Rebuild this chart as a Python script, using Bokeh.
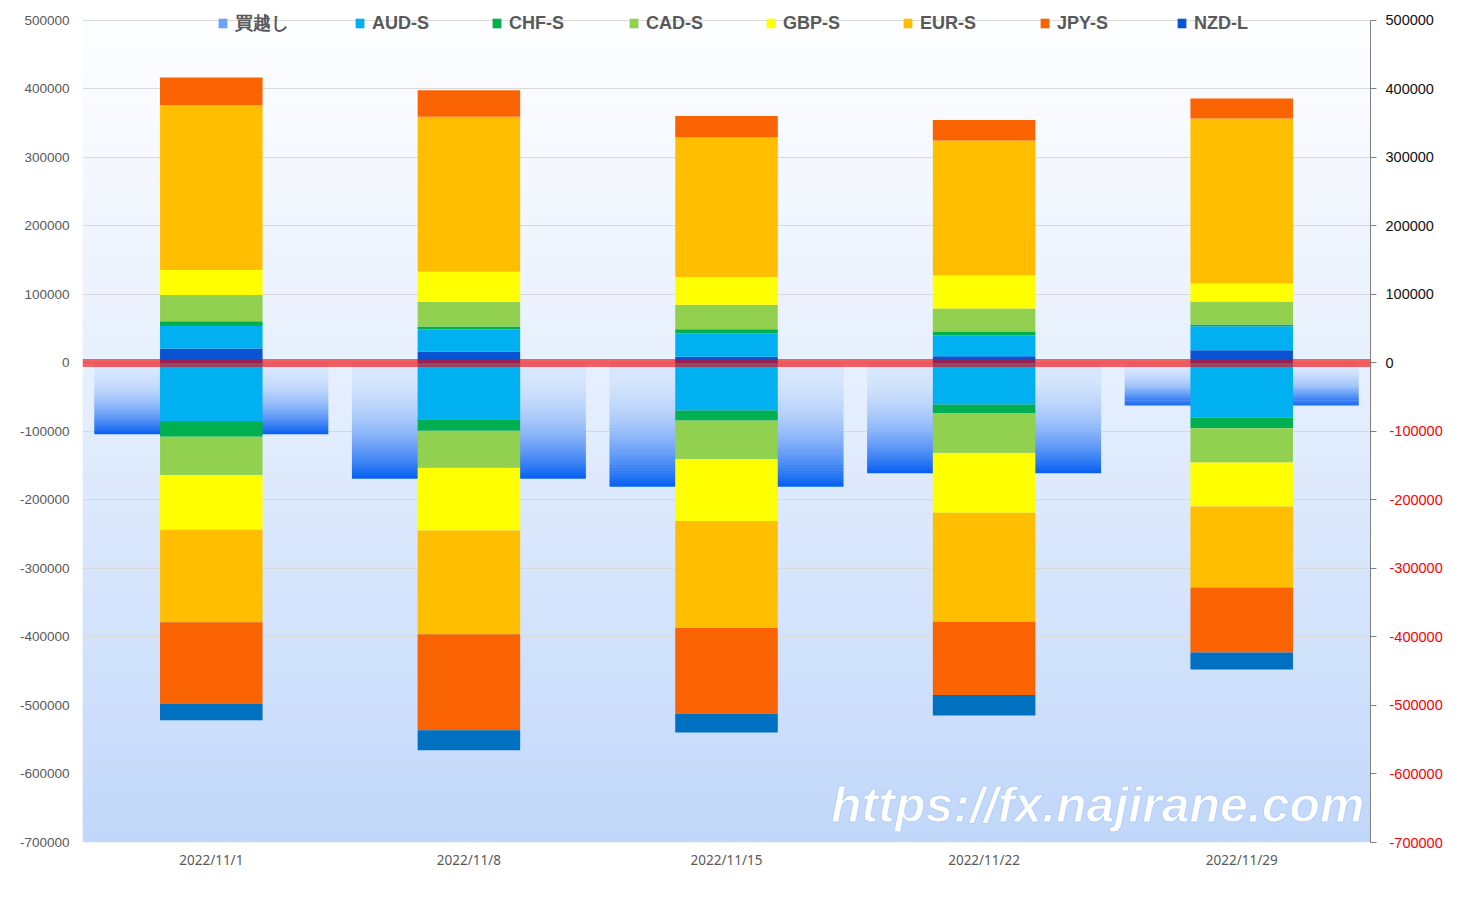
from bokeh.plotting import figure
from bokeh.models import (ColumnDataSource, Legend, LegendItem, LinearAxis, FixedTicker,
                          NumeralTickFormatter, Span, BoxAnnotation, Label, Range1d)
from bokeh.embed import file_html
from bokeh.resources import INLINE

# ---------------- data ----------------
dates = ["2022/11/1", "2022/11/8", "2022/11/15", "2022/11/22", "2022/11/29"]

net_long = [-104000, -169000, -180500, -161000, -62000]   # 買越し

# long positions (stacked upward from 0)
long_nzd = [21000, 16700, 9000, 10000, 18700]
long_aud = [33100, 32200, 34100, 30600, 35000]
long_chf = [7000, 4500, 6000, 5300, 2500]
long_cad = [38300, 36000, 35900, 33500, 33600]
long_gbp = [36300, 43700, 40700, 48200, 26300]
long_eur = [240700, 226400, 203600, 197100, 240800]
long_jpy = [40200, 38500, 31200, 30000, 29200]

# short positions (stacked downward from 0)
short_aud = [85400, 83000, 69500, 60600, 79600]
short_chf = [22200, 16000, 14300, 12300, 15600]
short_cad = [56100, 53400, 56300, 58300, 50100]
short_gbp = [79600, 92000, 90400, 87600, 64200]
short_eur = [135000, 151700, 156300, 158800, 118200]
short_jpy = [119200, 140200, 125200, 107100, 94900]
short_nzd = [24200, 29000, 27500, 30000, 24800]

y_ticks = [-700000, -600000, -500000, -400000, -300000, -200000, -100000,
           0, 100000, 200000, 300000, 400000, 500000]
y_min, y_max = -700000, 500000
y_pad_top = 17500   # room above the top gridline for the legend

# ---------------- styles ----------------
C = {"AUD": "#00B0F0", "CHF": "#00B050", "CAD": "#92D050", "GBP": "#FFFF00",
     "EUR": "#FFBF00", "JPY": "#F96302", "NZDL": "#0A54D3", "NZDS": "#0070C0"}

long_series = [("NZD-L", long_nzd, C["NZDL"]), ("AUD-L", long_aud, C["AUD"]),
               ("CHF-L", long_chf, C["CHF"]), ("CAD-L", long_cad, C["CAD"]),
               ("GBP-L", long_gbp, C["GBP"]), ("EUR-L", long_eur, C["EUR"]),
               ("JPY-L", long_jpy, C["JPY"])]
short_series = [("AUD-S", short_aud, C["AUD"]), ("CHF-S", short_chf, C["CHF"]),
                ("CAD-S", short_cad, C["CAD"]), ("GBP-S", short_gbp, C["GBP"]),
                ("EUR-S", short_eur, C["EUR"]), ("JPY-S", short_jpy, C["JPY"]),
                ("NZD-S", short_nzd, C["NZDS"])]


def mix(c1, c2, f):
    return "#%02x%02x%02x" % tuple(int(round(a + (b - a) * f)) for a, b in zip(c1, c2))


W, H = 1460, 902
p = figure(x_range=dates, y_range=Range1d(y_min, y_max + y_pad_top), width=W, height=H,
           output_backend="svg", toolbar_location=None,
           min_border_left=82, min_border_right=W - 1370, min_border_top=8, min_border_bottom=H - 842)
p.outline_line_color = None
p.background_fill_color = "white"
p.border_fill_color = "white"

# background gradient of the plot area
n_bg = 60
bg_top, bg_bot = (252, 253, 255), (194, 216, 250)
span = y_max - y_min
for i in range(n_bg):
    t = i / (n_bg - 1)
    top = y_max - span * i / n_bg
    bot = y_max - span * (i + 1.5) / n_bg
    p.add_layout(BoxAnnotation(top=top, bottom=max(bot, y_min), fill_color=mix(bg_top, bg_bot, t ** 1.15),
                               fill_alpha=1, line_color=None, level="image"))

p.ygrid.ticker = FixedTicker(ticks=y_ticks)
p.ygrid.grid_line_color = "#D9D9D9"
p.xgrid.grid_line_color = None

# net-long wide gradient bars
N = 40
light, dark = (216, 231, 253), (10, 98, 242)
nx, ntop, nbot, ncol = [], [], [], []
for d, v in zip(dates, net_long):
    for k in range(N):
        nx.append(d)
        ntop.append(v * k / N)
        nbot.append(v * min(k + 1.4, N) / N)
        ncol.append(mix(light, dark, (k / (N - 1)) ** 2))
net_src = ColumnDataSource(dict(x=nx, top=ntop, bottom=nbot, color=ncol))
net_r = p.vbar(x="x", top="top", bottom="bottom", width=0.908, source=net_src,
               fill_color="color", line_color=None)

# stacked bars
BW = 0.398
renderers = {}
base = [0] * len(dates)
for name, vals, col in long_series:
    top = [b + v for b, v in zip(base, vals)]
    renderers[name] = p.vbar(x=dates, bottom=base, top=top, width=BW, fill_color=col, line_color=None)
    base = top
base = [0] * len(dates)
for name, vals, col in short_series:
    bot = [b - v for b, v in zip(base, vals)]
    renderers[name] = p.vbar(x=dates, top=base, bottom=bot, width=BW, fill_color=col, line_color=None)
    base = bot

# zero line
p.add_layout(Span(location=0, dimension="width", line_color="#F70000", line_alpha=0.6, line_width=8))

# axes
ly = p.yaxis[0]
ly.ticker = FixedTicker(ticks=y_ticks)
ly.formatter = NumeralTickFormatter(format="0")
ly.axis_line_color = None
ly.major_tick_line_color = None
ly.minor_tick_line_color = None
ly.major_label_text_color = "#595959"
ly.major_label_text_font = "Liberation Sans"
ly.major_label_text_font_size = "13.5px"
ly.major_label_standoff = 7

neg_ticks = [t for t in y_ticks if t < 0]

# right axis: line, ticks and the black (non-negative) labels
ry = LinearAxis(ticker=FixedTicker(ticks=y_ticks), formatter=NumeralTickFormatter(format="0"),
                major_label_overrides={t: "" for t in neg_ticks}, bounds=(y_min, y_max))
ry.axis_line_color = "#7F7F7F"
ry.major_tick_line_color = "#7F7F7F"
ry.major_tick_out = 6
ry.major_tick_in = 0
ry.minor_tick_line_color = None
ry.major_label_text_color = "#111111"
ry.major_label_text_font = "Liberation Sans"
ry.major_label_text_font_size = "14.5px"
ry.major_label_standoff = 9
p.add_layout(ry, "right")

# second right axis: the red (negative) labels, pulled back under the first one
ry2 = LinearAxis(ticker=FixedTicker(ticks=neg_ticks), formatter=NumeralTickFormatter(format="0"))
ry2.axis_line_color = None
ry2.major_tick_line_color = None
ry2.major_tick_out = 0
ry2.major_tick_in = 0
ry2.minor_tick_line_color = None
ry2.major_label_text_color = "#FF0000"
ry2.major_label_text_font = "Liberation Sans"
ry2.major_label_text_font_size = "14.5px"
ry2.major_label_standoff = -47
p.add_layout(ry2, "right")

xa = p.xaxis[0]
xa.axis_line_color = None
xa.major_tick_line_color = None
xa.minor_tick_line_color = None
xa.major_label_text_color = "#595959"
xa.major_label_text_font = "Noto Sans"
xa.major_label_text_font_size = "13.5px"
xa.major_label_standoff = 2

# watermark
wm_y = y_min + 14000
p.add_layout(Label(x=len(dates), y=wm_y, x_offset=-6, text="https://fx.najirane.com",
                   text_align="right", text_baseline="bottom", text_color="white",
                   text_font="Liberation Sans", text_font_style="bold italic", text_font_size="50px",
                   text_outline_color="#b3cff8"))

# legend
items = [LegendItem(label="買越し", renderers=[net_r], index=28)]
for nm in ["AUD-S", "CHF-S", "CAD-S", "GBP-S", "EUR-S", "JPY-S", "NZD-L"]:
    items.append(LegendItem(label=nm, renderers=[renderers[nm]]))
legend = Legend(items=items, orientation="horizontal", location=(135, 807),
                label_width=119, spacing=0, glyph_width=11, glyph_height=12, label_standoff=7,
                padding=0, margin=0, border_line_color=None, background_fill_alpha=0,
                label_text_font_style="bold", label_text_color="#595959",
                label_text_font_size="18px", label_text_font="Liberation Sans")
p.add_layout(legend)

open("out.html", "w").write(file_html(p, INLINE))
